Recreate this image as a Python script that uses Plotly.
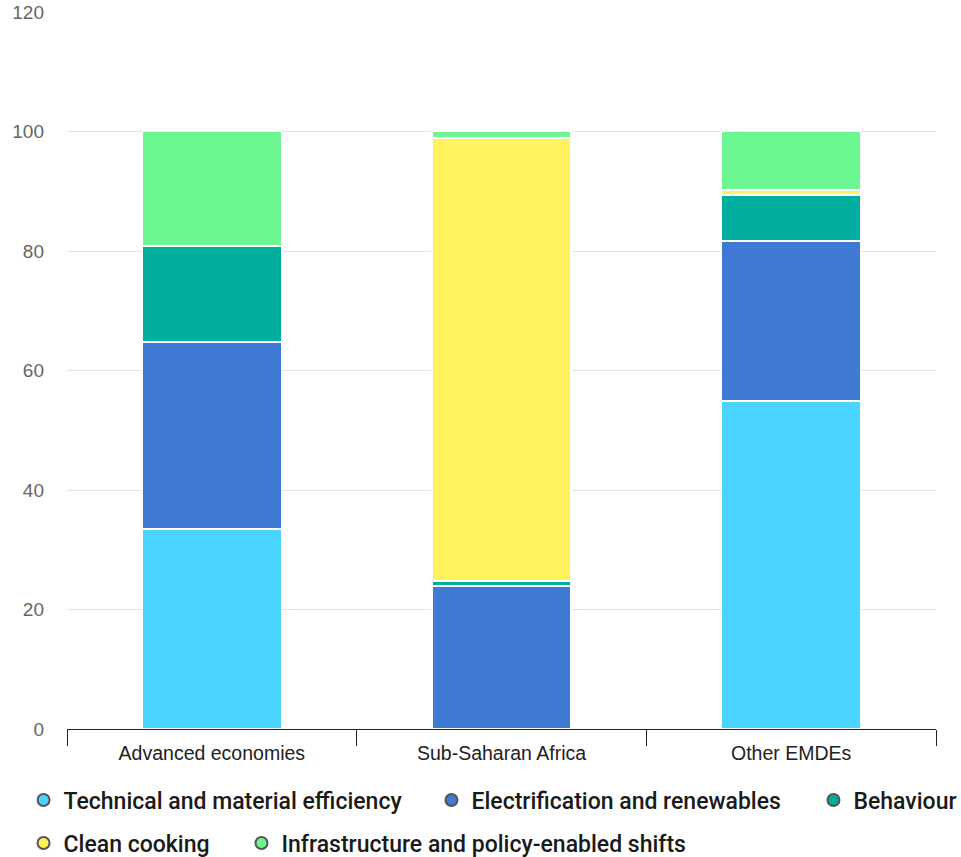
import plotly.graph_objects as go

# Share of energy savings by lever, per region (%)
regions = ["Advanced economies", "Sub-Saharan Africa", "Other EMDEs"]
levers = [
    "Technical and material efficiency",
    "Electrification and renewables",
    "Behaviour",
    "Clean cooking",
    "Infrastructure and policy-enabled shifts",
]
technical = [33.5, 0.0, 54.9]
electrification = [31.3, 23.9, 26.8]
behaviour = [16.0, 0.9, 7.7]
clean_cooking = [0.0, 74.1, 0.8]
infrastructure = [19.2, 1.1, 9.8]
y_ticks = [0, 20, 40, 60, 80, 100, 120]

series = [technical, electrification, behaviour, clean_cooking, infrastructure]
colors = ["#49D4FF", "#3E7AD4", "#00AEA0", "#FFF25C", "#6BF692"]

# One legend box per entry so the key row spacing can be set freely
legend_ids = ["legend", "legend2", "legend3", "legend4", "legend5"]
legend_x = [-0.05, 0.4194, 0.859, -0.05, 0.2008]
legend_y = [-0.099, -0.099, -0.099, -0.159, -0.159]

fig = go.Figure()
for name, vals, col in zip(levers, series, colors):
    fig.add_trace(go.Bar(
        x=regions, y=vals, name=name,
        marker=dict(color=col, line=dict(color="white", width=1.5)),
        showlegend=False,
    ))
# Circular legend keys
for name, col, lg in zip(levers, colors, legend_ids):
    fig.add_trace(go.Scatter(
        x=[None], y=[None], mode="markers", name=name, legend=lg,
        marker=dict(symbol="circle", size=13, color=col,
                    line=dict(color="#555555", width=0.5)),
    ))

legend_style = dict(
    orientation="h", xanchor="left", yanchor="middle",
    font=dict(family="Roboto", size=23, color="#1a1a1a", weight=500),
    itemsizing="constant", tracegroupgap=0, traceorder="normal",
)

fig.update_layout(
    barmode="stack",
    bargap=0.52,
    width=961, height=857,
    margin=dict(l=67, r=25, t=12, b=128, autoexpand=False),
    plot_bgcolor="white", paper_bgcolor="white",
    font=dict(family="Liberation Sans, Arial, sans-serif"),
    xaxis=dict(
        showline=True, linecolor="#222222", linewidth=1.2,
        ticks="outside", tickson="boundaries", ticklen=16,
        tickcolor="#222222", tickwidth=1.2,
        tickfont=dict(size=19.5, color="#222222"),
        ticklabelstandoff=6,
        showgrid=False,
    ),
    yaxis=dict(
        range=[0, 120], tickvals=y_ticks,
        showgrid=True, gridcolor="#E3E3E3", gridwidth=1,
        zeroline=False, showline=False,
        tickfont=dict(size=19, color="#666666"),
        ticklabelstandoff=22,
    ),
)
for lg, lx, ly in zip(legend_ids, legend_x, legend_y):
    fig.update_layout({lg: dict(legend_style, x=lx, y=ly)})

fig.write_html("out.html")
